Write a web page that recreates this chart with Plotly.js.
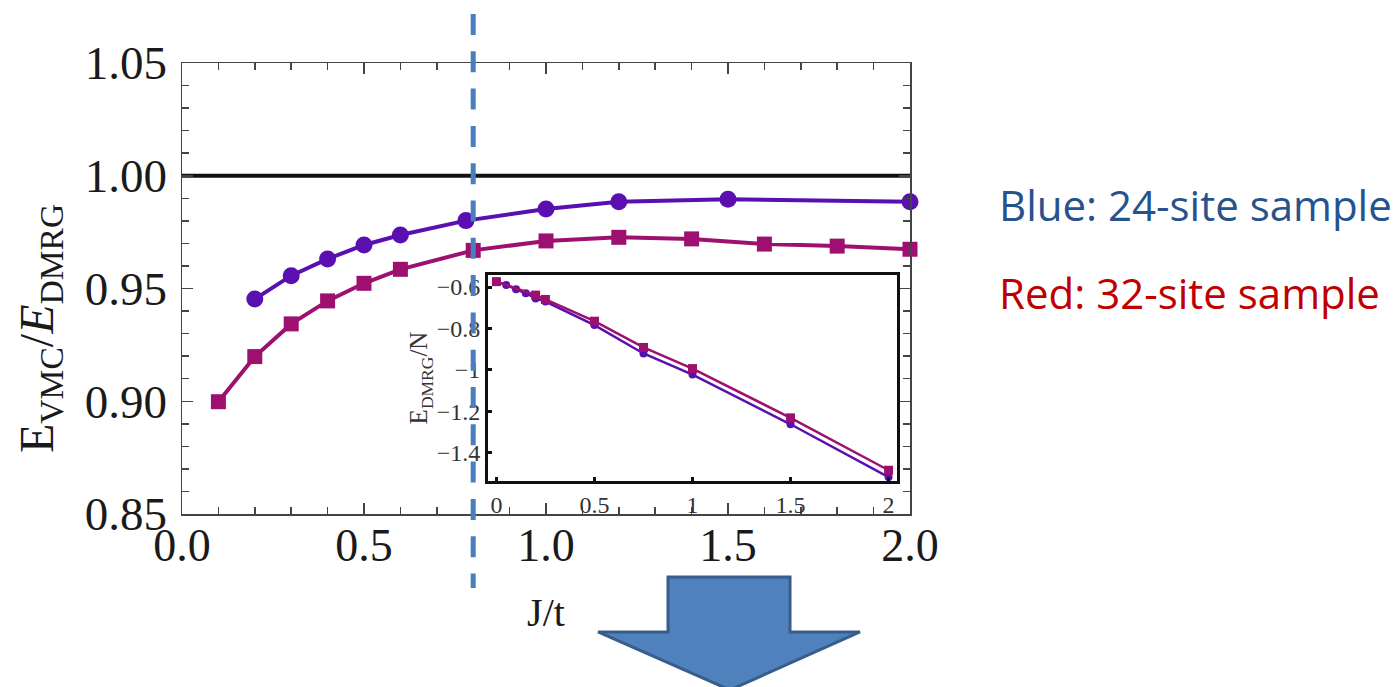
<!DOCTYPE html>
<html>
<head>
<meta charset="utf-8">
<script src="https://cdn.plot.ly/plotly-3.0.1.min.js"></script>
<style>html,body{margin:0;padding:0;background:#fff;}#chart{width:1395px;height:687px;}</style>
</head>
<body>
<div id="chart"></div>
<script>
// Main panel: E_VMC / E_DMRG vs J/t
const blueJ = [0.2, 0.3, 0.4, 0.5, 0.6, 0.78, 1.0, 1.2, 1.5, 2.0];
const blueRatio = [0.9453, 0.9557, 0.9631, 0.9693, 0.9737, 0.9801, 0.9853, 0.9885, 0.9896, 0.9885];
const redJ = [0.1, 0.2, 0.3, 0.4, 0.5, 0.6, 0.8, 1.0, 1.2, 1.4, 1.6, 1.8, 2.0];
const redRatio = [0.8998, 0.9198, 0.9343, 0.9445, 0.9523, 0.9585, 0.9669, 0.9711, 0.9727, 0.9720, 0.9697, 0.9688, 0.9674];
const refLevel = 1.0;
const markerJ = 0.8;

// Inset: E_DMRG / N vs J/t
const insetBlueJ = [0, 0.05, 0.1, 0.15, 0.2, 0.25, 0.5, 0.75, 1.0, 1.5, 2.0];
const insetBlueE = [-0.574, -0.59, -0.611, -0.63, -0.655, -0.67, -0.784, -0.921, -1.023, -1.263, -1.518];
const insetRedJ = [0, 0.2, 0.25, 0.5, 0.75, 1.0, 1.5, 2.0];
const insetRedE = [-0.574, -0.639, -0.66, -0.765, -0.892, -0.994, -1.232, -1.485];

// Labels
const yTitleText = 'E<sub>VMC</sub>/<i>E</i><sub>DMRG</sub>';
const xTitleText = 'J/t';
const insetYTitleText = 'E<sub>DMRG</sub>/N';
const blueNote = 'Blue: 24-site sample';
const redNote = 'Red: 32-site sample';

const W = 1395, H = 687;
const M = {l: 182, r: 485, t: 63, b: 173};
const pw = W - M.l - M.r, ph = H - M.t - M.b;
const px = v => (v - M.l) / pw;        // pixel -> paper x
const py = v => (H - M.b - v) / ph;     // pixel -> paper y

const xRange = [0, 2], yRange = [0.85, 1.05];

const blueCol = '#5a0fb0';
const redCol = '#9e1070';
const serif = 'Liberation Serif, Times New Roman, serif';

const traces = [
  {x: blueJ, y: blueRatio, type: 'scatter', mode: 'lines+markers', cliponaxis: false,
   line: {color: blueCol, width: 4}, marker: {symbol: 'circle', size: 17, color: blueCol}, xaxis: 'x', yaxis: 'y'},
  {x: redJ, y: redRatio, type: 'scatter', mode: 'lines+markers', cliponaxis: false,
   line: {color: redCol, width: 4}, marker: {symbol: 'square', size: 15, color: redCol}, xaxis: 'x', yaxis: 'y'},
  {x: insetBlueJ, y: insetBlueE, type: 'scatter', mode: 'lines+markers', cliponaxis: false,
   line: {color: blueCol, width: 2.5}, marker: {symbol: 'circle', size: 8, color: blueCol}, xaxis: 'x2', yaxis: 'y2'},
  {x: insetRedJ, y: insetRedE, type: 'scatter', mode: 'lines+markers', cliponaxis: false,
   line: {color: redCol, width: 2.5}, marker: {symbol: 'square', size: 9, color: redCol}, xaxis: 'x2', yaxis: 'y2'}
];

// arrow (pixel outline -> paper)
const arrowPx = [[668, 577], [790, 577], [790, 632], [860, 632], [730, 690], [598, 632], [668, 632]];
const arrowPath = 'M ' + arrowPx.map(p => px(p[0]).toFixed(4) + ',' + py(p[1]).toFixed(4)).join(' L ') + ' Z';

const dashX = (markerJ - xRange[0]) / (xRange[1] - xRange[0]);

const layout = {
  width: W, height: H,
  margin: M,
  paper_bgcolor: '#fff', plot_bgcolor: 'rgba(0,0,0,0)',
  showlegend: false,
  font: {family: serif, color: '#1a1a1a'},
  xaxis: {
    domain: [0, 1], range: xRange, anchor: 'y',
    showgrid: false, zeroline: false,
    showline: true, linecolor: '#444', linewidth: 1.5, mirror: 'ticks',
    ticks: 'inside', ticklen: 11, tickwidth: 1.5, tickcolor: '#444',
    dtick: 0.5, tick0: 0, tickformat: '.1f',
    minor: {dtick: 0.1, ticks: 'inside', ticklen: 7, tickwidth: 1.5, tickcolor: '#444', showgrid: false},
    tickfont: {family: serif, size: 46, color: '#1a1a1a'},
    ticklabelstandoff: -10,
    title: {text: xTitleText, font: {family: serif, size: 40, color: '#1a1a1a'}, standoff: 28}
  },
  yaxis: {
    domain: [0, 1], range: yRange, anchor: 'x',
    showgrid: false, zeroline: false,
    showline: true, linecolor: '#444', linewidth: 1.5, mirror: 'ticks',
    ticks: 'inside', ticklen: 11, tickwidth: 1.5, tickcolor: '#444',
    dtick: 0.05, tick0: 0.85, tickformat: '.2f',
    minor: {dtick: 0.01, ticks: 'inside', ticklen: 7, tickwidth: 1.5, tickcolor: '#444', showgrid: false},
    tickfont: {family: serif, size: 47, color: '#1a1a1a'},
    ticklabelstandoff: 4
  },
  xaxis2: {
    domain: [px(488), px(897)], range: [-0.043, 2.043], anchor: 'y2',
    showgrid: false, zeroline: false,
    showline: true, linecolor: '#111', linewidth: 3, mirror: true,
    ticks: 'inside', ticklen: 4, tickwidth: 3, tickcolor: '#111',
    dtick: 0.5, tick0: 0,
    tickfont: {family: serif, size: 24, color: '#333'}
  },
  yaxis2: {
    domain: [py(481), py(275)], range: [-1.537, -0.542], anchor: 'x2',
    showgrid: false, zeroline: false,
    showline: true, linecolor: '#111', linewidth: 3, mirror: true,
    ticks: 'inside', ticklen: 4, tickwidth: 3, tickcolor: '#111',
    dtick: 0.2, tick0: -0.6,
    tickfont: {family: serif, size: 24, color: '#333'},
    ticklabelstandoff: 0,
    title: {text: insetYTitleText, font: {family: serif, size: 25, color: '#333'}, standoff: 2}
  },
  shapes: [
    {type: 'line', xref: 'paper', yref: 'y', x0: 0, x1: 1, y0: refLevel, y1: refLevel,
     line: {color: '#111', width: 4}, layer: 'below'},
    {type: 'rect', xref: 'paper', yref: 'paper', x0: px(488), x1: px(897), y0: py(481), y1: py(275),
     fillcolor: '#fff', line: {width: 0}, layer: 'below'},
    {type: 'line', xref: 'paper', yref: 'paper', x0: dashX, x1: dashX, y0: py(14), y1: py(588),
     line: {color: '#4a7ebf', width: 5, dash: '21px,16.3px'}, layer: 'above'},
    {type: 'path', xref: 'paper', yref: 'paper', path: arrowPath,
     fillcolor: '#4f81bd', line: {color: '#385d8a', width: 3}, layer: 'above'}
  ],
  annotations: [
    {text: yTitleText, xref: 'paper', yref: 'paper', x: px(40), y: py(329), textangle: -90,
     showarrow: false, xanchor: 'center', yanchor: 'middle',
     font: {family: serif, size: 48, color: '#1a1a1a'}},
    {text: blueNote, xref: 'paper', yref: 'paper', x: px(997), y: py(204), xanchor: 'left', yanchor: 'middle',
     showarrow: false, font: {family: 'Open Sans, Noto Sans, sans-serif', size: 42, color: '#26538d'}},
    {text: redNote, xref: 'paper', yref: 'paper', x: px(997), y: py(292), xanchor: 'left', yanchor: 'middle',
     showarrow: false, font: {family: 'Open Sans, Noto Sans, sans-serif', size: 42, color: '#c00000'}}
  ]
};

Plotly.newPlot('chart', traces, layout, {displayModeBar: false, staticPlot: true});
</script>
</body>
</html>
